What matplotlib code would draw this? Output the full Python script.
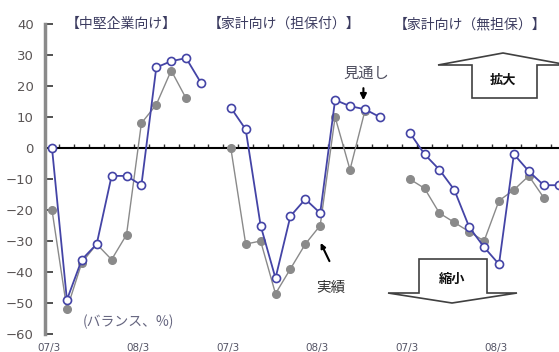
import matplotlib
matplotlib.use("Agg")
import matplotlib.pyplot as plt
from matplotlib.patches import Polygon
import numpy as np

plt.rcParams['font.family'] = ['Noto Sans CJK JP', 'DejaVu Sans']

# ---- data ----
panel_titles = ["【中堅企業向け】", "【家計向け（担保付）】", "【家計向け（無担保）】"]
x_tick_labels = ["07/3", "08/3"]
x_tick_index = [0, 6]

actual_mid = [-20, -52, -37, -31, -36, -28, 8, 14, 25, 16]
forecast_mid = [0, -49, -36, -31, -9, -9, -12, 26, 28, 29, 21]

actual_secured = [0, -31, -30, -47, -39, -31, -25, 10, -7, 12]
forecast_secured = [13, 6, -25, -42, -22, -16.5, -21, 15.5, 13.5, 12.5, 10]

actual_unsecured = [-10, -13, -21, -24, -27, -30, -17, -13.5, -9, -16]
forecast_unsecured = [5, -2, -7, -13.5, -25.5, -32, -37.5, -2, -7.5, -12, -12]

actuals = [actual_mid, actual_secured, actual_unsecured]
forecasts = [forecast_mid, forecast_secured, forecast_unsecured]
panel_width = 12

W, H = 559, 352
fig = plt.figure(figsize=(W / 100, H / 100), dpi=100)

# pixel geometry
x0_px, dx_px = 52.0, 14.9
ax_left_px = 45
ax_top_px, ax_bot_px = 24, 334
ax = fig.add_axes([ax_left_px / W, (H - ax_bot_px) / H, 1 - ax_left_px / W,
                   (ax_bot_px - ax_top_px) / H])
ax.set_xlim((ax_left_px - x0_px) / dx_px, (W - x0_px) / dx_px)
ax.set_ylim(-60, 40)
ax.patch.set_alpha(0)

blue = '#4444a6'
gray = '#8a8a8a'

for p in range(3):
    xa = np.arange(len(actuals[p])) + p * panel_width
    xf = np.arange(len(forecasts[p])) + p * panel_width
    ax.plot(xa, actuals[p], color=gray, lw=1.0, marker='o', ms=5.5,
            mfc=gray, mec=gray, zorder=3, clip_on=False)
    ax.plot(xf, forecasts[p], color=blue, lw=1.3, marker='o', ms=5.8,
            mfc='white', mec=blue, mew=1.2, zorder=4, clip_on=False)

# spines
for s in ['top', 'right']:
    ax.spines[s].set_visible(False)
ax.spines['left'].set_color('#8a8a8a')
ax.spines['left'].set_linewidth(2.5)
ax.spines['bottom'].set_position(('data', 0))
ax.spines['bottom'].set_color('black')
ax.spines['bottom'].set_linewidth(1.5)
ax.spines['bottom'].set_zorder(2)

ax.set_yticks(np.arange(-60, 41, 10))
ax.tick_params(axis='y', direction='in', length=6, width=1.2, color='#333333',
               labelsize=9.5, labelcolor='#5a5555', pad=8)
for lab in ax.get_yticklabels():
    lab.set_fontfamily('DejaVu Sans')
ax.set_xticks(np.arange(0.5, 34, 1))
ax.tick_params(axis='x', direction='in', length=3, width=1, color='#333333',
               labelbottom=False)

# x labels at bottom
label_y = (H - 343) / H
for p in range(3):
    for idx, lab in zip(x_tick_index, x_tick_labels):
        xd = p * panel_width + idx - 0.2
        fig.text(ax.transData.transform((xd, 0))[0] / W, label_y, lab,
                 ha='center', va='top', fontsize=7.5, color='#555566',
                 fontfamily='DejaVu Sans')

# panel titles
title_px = [121, 284, 470]
for t, xp in zip(panel_titles, title_px):
    fig.text(xp / W, (H - 24) / H, t, ha='center', va='center', fontsize=10,
             color='#3c3c60')

# annotations
ax.text(21.1, 24, "見通し", ha='center', va='center', fontsize=11, color='#505060')
ax.annotate('', xy=(20.9, 14.5), xytext=(20.9, 20.2),
            arrowprops=dict(arrowstyle='-|>', color='black', lw=1.5, mutation_scale=9),
            zorder=6)
ax.text(18.7, -45, "実績", ha='center', va='center', fontsize=10.5, color='#333333')
ax.annotate('', xy=(17.95, -29.8), xytext=(18.7, -37.3),
            arrowprops=dict(arrowstyle='-|>', color='black', lw=1.5, mutation_scale=7),
            zorder=6)
ax.text(5.1, -56, "(バランス、%)", ha='center', va='center', fontsize=10,
        color='#666680')

# expand / shrink block arrows (figure pixel coords)
def px(x, y):
    return (x / W, (H - y) / H)

up_pts = [px(472, 98), px(472, 65), px(438, 65), px(503, 53), px(568, 65),
          px(537, 65), px(537, 98)]
fig.patches.append(Polygon(up_pts, closed=True, fc='white', ec='#404040', lw=1.2,
                           transform=fig.transFigure, figure=fig, zorder=5))
fig.text(*px(503, 80), "拡大", ha='center', va='center', fontsize=9.5,
         fontweight='bold', color='#111111', zorder=6)

down_pts = [px(419, 259), px(487, 259), px(487, 293), px(517, 293), px(452, 303),
            px(388, 293), px(419, 293)]
fig.patches.append(Polygon(down_pts, closed=True, fc='white', ec='#404040', lw=1.2,
                           transform=fig.transFigure, figure=fig, zorder=5))
fig.text(*px(452, 279), "縮小", ha='center', va='center', fontsize=9.5,
         fontweight='bold', color='#111111', zorder=6)

fig.savefig('out.png', dpi=100)
